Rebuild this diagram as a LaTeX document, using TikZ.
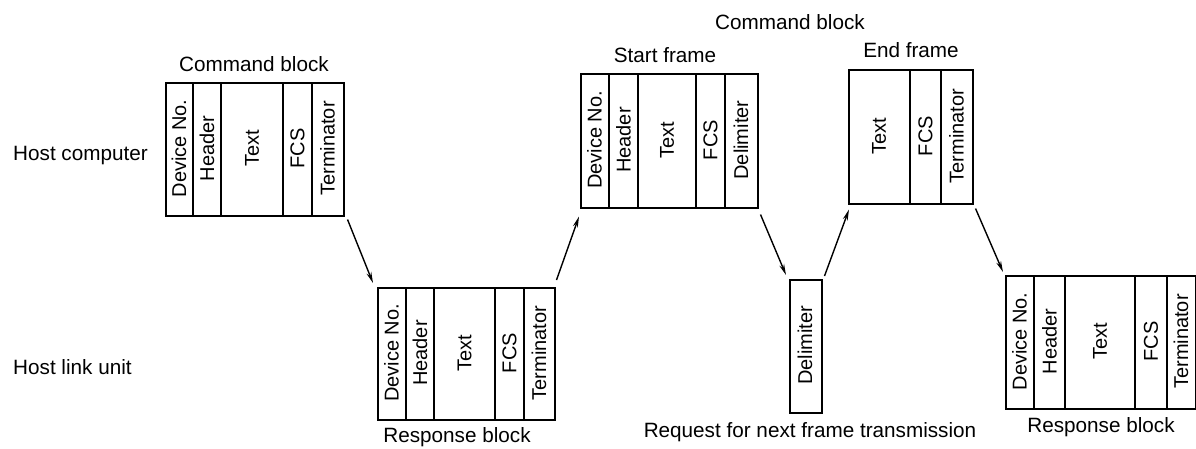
\documentclass[tikz,border=0pt]{standalone}
\usepackage{fontspec}
\setmainfont{Liberation Sans}
\usetikzlibrary{arrows.meta}
\begin{document}
\begin{tikzpicture}[x=1pt,y=-1pt,
  frame/.style={draw, line width=1.5pt, inner sep=0pt, anchor=north west},
  sep/.style={line width=1.2pt},
  field/.style={rotate=90, font=\fontsize{20}{24}\selectfont, inner sep=0pt},
  lbl/.style={font=\fontsize{20.7}{25}\selectfont, inner sep=0pt},
  arr/.style={line width=1.4pt, -{Stealth[length=11pt,width=5pt]}}]

\useasboundingbox[fill=white] (0,0) rectangle (1196,448);

% row labels
\node[lbl, anchor=west] (hostpc) at (13,156) {Host computer};
\node[lbl, anchor=west] (hostlink) at (13,367) {Host link unit};

% command block (host computer)
\node[frame, minimum width=178pt, minimum height=133pt] (cmd) at (165,82) {};
\foreach \x in {193,221,283,312} \draw[sep] (\x,82) -- (\x,215);
\foreach \x/\t [count=\i] in {179/Device No., 207/Header, 252/Text, 297.5/FCS, 327.5/Terminator}
  \node[field] (cmdf\i) at (\x,148.5) {\t};
\node[lbl] (cmdlbl) at (254,64) {Command block};

% response block (host link unit)
\node[frame, minimum width=177pt, minimum height=132pt] (resp) at (377,287) {};
\foreach \x in {406,434,495,524} \draw[sep] (\x,287) -- (\x,419);
\foreach \x/\t [count=\i] in {391.5/Device No., 420/Header, 464.5/Text, 509.5/FCS, 539/Terminator}
  \node[field] (respf\i) at (\x,353) {\t};
\node[lbl] (resplbl) at (457,437) {Response block};

% multi-frame command block: start frame
\node[frame, minimum width=177pt, minimum height=134pt] (start) at (580,73) {};
\foreach \x in {609,638,696,725} \draw[sep] (\x,73) -- (\x,207);
\foreach \x/\t [count=\i] in {594.5/Device No., 623.5/Header, 667/Text, 710.5/FCS, 741/Delimiter}
  \node[field] (startf\i) at (\x,140) {\t};
\node[lbl] (startlbl) at (665,55) {Start frame};
\node[lbl] (cmd2lbl) at (790,22) {Command block};

% end frame
\node[frame, minimum width=124pt, minimum height=134pt] (endf) at (848,69) {};
\foreach \x in {910,941} \draw[sep] (\x,69) -- (\x,203);
\foreach \x/\t [count=\i] in {879/Text, 925.5/FCS, 956.5/Terminator}
  \node[field] (endff\i) at (\x,136) {\t};
\node[lbl] (endlbl) at (911,50) {End frame};

% delimiter returned by the host link unit
\node[frame, minimum width=32pt, minimum height=133pt] (delim) at (789,279) {};
\node[field] (delimf) at (805,345.5) {Delimiter};
\node[lbl] (reqlbl) at (810,432) {Request for next frame transmission};

% final response block
\node[frame, minimum width=190pt, minimum height=133pt] (resp2) at (1005,275) {};
\foreach \x in {1034,1065,1135,1167} \draw[sep] (\x,275) -- (\x,408);
\foreach \x/\t [count=\i] in {1019.5/Device No., 1049.5/Header, 1100/Text, 1151/FCS, 1181/Terminator}
  \node[field] (resp2f\i) at (\x,341.5) {\t};
\node[lbl] (resp2lbl) at (1101,427) {Response block};

% transfer sequence
\draw[arr] ([shift={(3,3)}]cmd.south east) -- ([shift={(-4,-4)}]resp.north west);
\draw[arr] ([shift={(1,-7)}]resp.north east) -- ([shift={(-1,8)}]start.south west);
\draw[arr] ([shift={(2,6)}]start.south east) -- ([shift={(-3,-4)}]delim.north west);
\draw[arr] ([shift={(2,-3)}]delim.north east) -- ([shift={(1,5)}]endf.south west);
\draw[arr] ([shift={(2,4)}]endf.south east) -- ([shift={(-2,-3)}]resp2.north west);
\end{tikzpicture}
\end{document}
